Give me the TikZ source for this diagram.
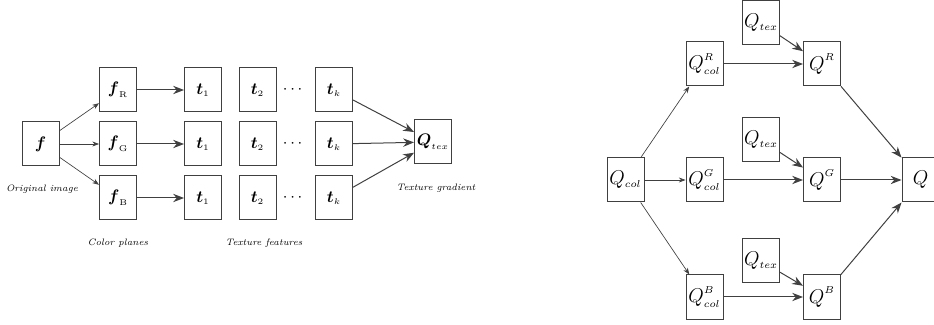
\documentclass[tikz,border=0pt]{standalone}
\usepackage{amsmath}
\usepackage{tikz}
\usetikzlibrary{positioning, arrows.meta}

\tikzset{
	blk/.style={draw, rectangle, minimum height=26.4pt, minimum width=22.2pt, inner sep=0pt, line width=0.6pt},
	qblk/.style={blk, font=\large},
	lbl/.style={font=\fontsize{5.6pt}{6.5pt}\selectfont\itshape},
	fan/.style={-{Stealth[length=4pt, width=3pt]}, line width=0.4pt},
	flow/.style={-{Stealth[length=6.5pt, width=5pt]}, line width=0.6pt}
}
\newcommand{\sub}[1]{_{\scriptscriptstyle #1}}
\newcommand{\chan}[1]{^{\raisebox{1.5pt}{$\scriptscriptstyle #1$}}}

\begin{document}
\begin{tikzpicture}[x=0.6pt, y=-0.6pt, draw=darkgray]
		\useasboundingbox (0,0) rectangle (934,325);
		\clip (0,0) rectangle (934,325);
		%texture gradient
		\node[blk] (f) at (40.5,144) {$\boldsymbol{f}$};
		\node[blk] (fR) at (118,90) {$\boldsymbol{f}\sub{\mathrm{R}}$};
		\node[blk] (fG) at (118,144) {$\boldsymbol{f}\sub{\mathrm{G}}$};
		\node[blk] (fB) at (118,198) {$\boldsymbol{f}\sub{\mathrm{B}}$};
		\node[blk] (t1R) at (203,90) {$\boldsymbol{t}\sub{1}$};
		\node[blk] (t1G) at (203,144) {$\boldsymbol{t}\sub{1}$};
		\node[blk] (t1B) at (203,198) {$\boldsymbol{t}\sub{1}$};
		\node[blk] (t2R) at (257.5,90) {$\boldsymbol{t}\sub{2}$};
		\node[blk] (t2G) at (257.5,144) {$\boldsymbol{t}\sub{2}$};
		\node[blk] (t2B) at (257.5,198) {$\boldsymbol{t}\sub{2}$};
		\node (dotsR) at (294,90) {$\cdots$};
		\node (dotsG) at (294,144) {$\cdots$};
		\node (dotsB) at (294,198) {$\cdots$};
		\node[blk] (tkR) at (334,90) {$\boldsymbol{t}\sub{k}$};
		\node[blk] (tkG) at (334,144) {$\boldsymbol{t}\sub{k}$};
		\node[blk] (tkB) at (334,198) {$\boldsymbol{t}\sub{k}$};
		\node[blk] (Qtex) at (433,142) {$\boldsymbol{Q}\sub{tex}$};
		\node[lbl] (orig) at (42,189) {Original image};
		\node[lbl] (planes) at (118,243) {Color planes};
		\node[lbl] (feats) at (264,243) {Texture features};
		\node[lbl] (grad) at (436,188) {Texture gradient};
		\draw[fan] (f) -- (fR);
		\draw[fan] (f) -- (fG);
		\draw[fan] (f) -- (fB);
		\draw[flow] (fR) -- (t1R);
		\draw[flow] (fG) -- (t1G);
		\draw[flow] (fB) -- (t1B);
		\draw[flow] (tkR) -- (Qtex);
		\draw[flow] (tkG) -- (Qtex);
		\draw[flow] (tkB) -- (Qtex);
		%fusion
		\node[qblk] (Qcol) at (625.5,180) {$Q\sub{col}$};
		\node[qblk] (QcolR) at (704.5,64) {$Q\chan{R}\sub{col}$};
		\node[qblk] (QcolG) at (704.5,180) {$Q\chan{G}\sub{col}$};
		\node[qblk] (QcolB) at (704.5,297) {$Q\chan{B}\sub{col}$};
		\node[qblk] (QtexR) at (761,23) {$Q\sub{tex}$};
		\node[qblk] (QtexG) at (761,140) {$Q\sub{tex}$};
		\node[qblk] (QtexB) at (761,261) {$Q\sub{tex}$};
		\node[qblk] (QR) at (822,64) {$Q\chan{R}$};
		\node[qblk] (QG) at (822,180) {$Q\chan{G}$};
		\node[qblk] (QB) at (822,297) {$Q\chan{B}$};
		\node[qblk] (Q) at (920.5,180) {$Q$};
		\draw[fan] (Qcol) -- (QcolR);
		\draw[fan] (Qcol) -- (QcolG);
		\draw[fan] (Qcol) -- (QcolB);
		\draw[flow] (QcolR) -- (QR);
		\draw[flow] (QcolG) -- (QG);
		\draw[flow] (QcolB) -- (QB);
		\draw[flow] (QtexR) -- (QR);
		\draw[flow] (QtexG) -- (QG);
		\draw[flow] (QtexB) -- (QB);
		\draw[flow] (QR) -- (Q);
		\draw[flow] (QG) -- (Q);
		\draw[flow] (QB) -- (Q);
\end{tikzpicture}
\end{document}
